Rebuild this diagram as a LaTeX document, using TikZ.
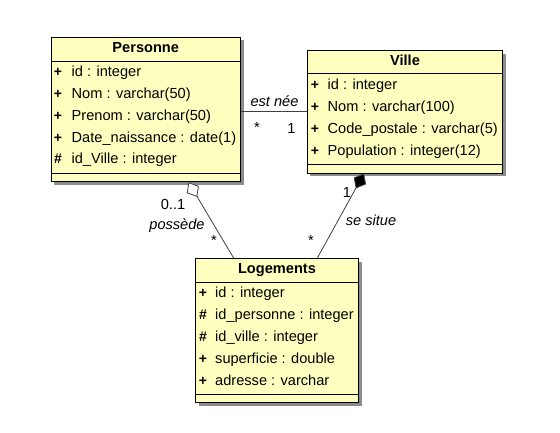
\documentclass[tikz,border=0pt]{standalone}
\usepackage{fontspec}
\setmainfont{Liberation Sans}
\usetikzlibrary{arrows.meta,calc}
\definecolor{classfill}{HTML}{FFFFC0}
\definecolor{shadowgray}{HTML}{8C8C8C}
\definecolor{linegray}{HTML}{404040}
\tikzset{
  classbox/.style={draw=black, fill=classfill, line width=1pt, inner sep=0pt, rectangle},
  shadowbox/.style={fill=shadowgray, draw=none},
  sepline/.style={draw=black, line width=0.8pt},
  attr/.style={anchor=west, inner sep=0pt, text height=10.5pt, text depth=3pt, font=\fontsize{14.6}{16}\selectfont},
  vis/.style={anchor=center, inner sep=0pt, text height=10.5pt, text depth=3pt, font=\fontsize{14}{16}\selectfont\bfseries},
  titletext/.style={anchor=center, inner sep=0pt, text height=10.5pt, text depth=3pt, font=\fontsize{14.6}{16}\selectfont\bfseries},
  lbl/.style={inner sep=0pt, font=\fontsize{14.6}{16}\selectfont},
  ilbl/.style={inner sep=0pt, font=\fontsize{14.6}{16}\selectfont\itshape},
  conn/.style={draw=linegray, line width=0.8pt},
}
\begin{document}
\begin{tikzpicture}[x=1pt,y=-1pt]
\useasboundingbox (0,0) rectangle (560,432);
\fill[white] (0,0) rectangle (560,432);
% shadows
\fill[shadowgray] (54,40) rectangle (243.5,185);
\fill[shadowgray] (310,53.5) rectangle (505.5,176);
\fill[shadowgray] (198.5,261.5) rectangle (361.5,406);
% class boxes
\node[classbox, minimum width=189.5pt, minimum height=144.5pt] (personne) at (145.75,109.5) {};
\node[classbox, minimum width=195pt, minimum height=122.5pt] (ville) at (405,111.75) {};
\node[classbox, minimum width=163pt, minimum height=144.5pt] (logements) at (277,330.5) {};
% separators
\draw[sepline] ($(personne.north west)+(0,24.5)$) -- ($(personne.north east)+(0,24.5)$);
\draw[sepline] ($(personne.south west)+(0,-8.5)$) -- ($(personne.south east)+(0,-8.5)$);
\draw[sepline] ($(ville.north west)+(0,23.5)$) -- ($(ville.north east)+(0,23.5)$);
\draw[sepline] ($(ville.south west)+(0,-9.5)$) -- ($(ville.south east)+(0,-9.5)$);
\draw[sepline] ($(logements.north west)+(0,24.5)$) -- ($(logements.north east)+(0,24.5)$);
\draw[sepline] ($(logements.south west)+(0,-8.5)$) -- ($(logements.south east)+(0,-8.5)$);
% Personne
\node[titletext] (ptitle) at (145.75,48.5) {Personne};
\node[vis] (pv1) at (58,73) {+};
\node[attr] (pa1) at (71.5,72.5) {id : integer};
\node[vis] (pv2) at (58,95) {+};
\node[attr] (pa2) at (71.5,94.5) {Nom : varchar(50)};
\node[vis] (pv3) at (58,117) {+};
\node[attr] (pa3) at (71.5,116.5) {Prenom : varchar(50)};
\node[vis] (pv4) at (58,139) {+};
\node[attr] (pa4) at (71.5,138.5) {Date\_naissance : date(1)};
\node[vis] (pv5) at (58,160) {\#};
\node[attr] (pa5) at (71.5,160) {id\_Ville : integer};
% Ville
\node[titletext] (vtitle) at (405,61.5) {Ville};
\node[vis] (vv1) at (315,86) {+};
\node[attr] (va1) at (327.5,85.5) {id : integer};
\node[vis] (vv2) at (315,108) {+};
\node[attr] (va2) at (327.5,107.5) {Nom : varchar(100)};
\node[vis] (vv3) at (315,130) {+};
\node[attr] (va3) at (327.5,129.5) {Code\_postale : varchar(5)};
\node[vis] (vv4) at (315,152) {+};
\node[attr] (va4) at (327.5,151.5) {Population : integer(12)};
% Logements
\node[titletext] (ltitle) at (277,270) {Logements};
\node[vis] (lv1) at (203,294) {+};
\node[attr] (la1) at (215,293.5) {id : integer};
\node[vis] (lv2) at (203,315.5) {\#};
\node[attr] (la2) at (215,315.5) {id\_personne : integer};
\node[vis] (lv3) at (203,337.5) {\#};
\node[attr] (la3) at (215,337.5) {id\_ville : integer};
\node[vis] (lv4) at (203,360) {+};
\node[attr] (la4) at (215,359.5) {superficie : double};
\node[vis] (lv5) at (203,382) {+};
\node[attr] (la5) at (215,381.5) {adresse : varchar};
% connectors
\draw[conn] (personne.east |- ville.west) -- (ville.west);
\coordinate (possTop) at ($(personne.south west)+(138,0)$);
\coordinate (possBot) at ($(logements.north west)+(38.5,0)$);
\draw[conn, {Diamond[open, fill=white, length=17pt, width=14pt, line width=0.8pt]}-] (possTop) -- (possBot);
\coordinate (situTop) at ($(ville.south west)+(57,0)$);
\coordinate (situBot) at ($(logements.north west)+(122.5,0)$);
\draw[conn, {Diamond[fill=black, length=17pt, width=14pt]}-] (situTop) -- (situBot);
% labels
\node[ilbl] (estnee) at (274.5,101) {est née};
\node[lbl] (m1) at (257,127) {*};
\node[lbl] (m2) at (291.5,128) {1};
\node[lbl] (m3) at (173,204) {0..1};
\node[ilbl] (possede) at (177,226) {possède};
\node[lbl] (m4) at (214,240) {*};
\node[lbl] (m5) at (347,192) {1};
\node[ilbl] (sesitue) at (371,220) {se situe};
\node[lbl] (m6) at (311,240) {*};
\end{tikzpicture}
\end{document}
